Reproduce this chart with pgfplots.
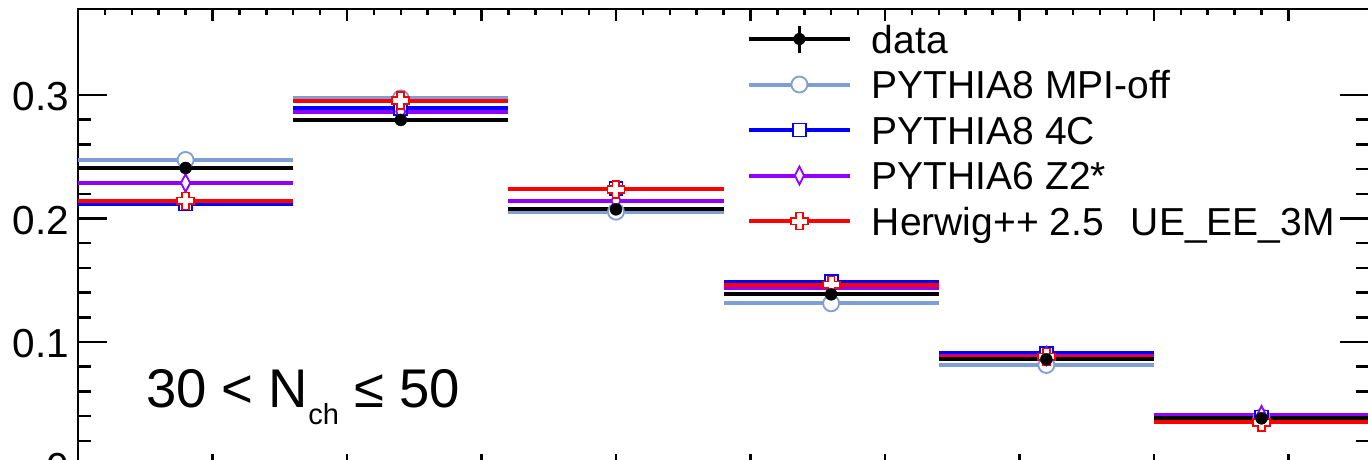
\documentclass[border=0pt]{standalone}
\usepackage{pgfplots}
\pgfplotsset{compat=1.18}
\usepackage{pgfplotstable}
\usepackage{fontspec}
\setmainfont{Liberation Sans}

\definecolor{mpioff}{RGB}{128,158,214}
\definecolor{pyblue}{RGB}{0,0,255}
\definecolor{zviolet}{RGB}{146,0,255}
\definecolor{hwred}{RGB}{255,0,0}

% ROOT style open cross (marker 28)
\pgfdeclareplotmark{ocross}{%
  \pgfpathmoveto{\pgfqpoint{0.4\pgfplotmarksize}{\pgfplotmarksize}}%
  \pgfpathlineto{\pgfqpoint{0.4\pgfplotmarksize}{0.4\pgfplotmarksize}}%
  \pgfpathlineto{\pgfqpoint{\pgfplotmarksize}{0.4\pgfplotmarksize}}%
  \pgfpathlineto{\pgfqpoint{\pgfplotmarksize}{-0.4\pgfplotmarksize}}%
  \pgfpathlineto{\pgfqpoint{0.4\pgfplotmarksize}{-0.4\pgfplotmarksize}}%
  \pgfpathlineto{\pgfqpoint{0.4\pgfplotmarksize}{-\pgfplotmarksize}}%
  \pgfpathlineto{\pgfqpoint{-0.4\pgfplotmarksize}{-\pgfplotmarksize}}%
  \pgfpathlineto{\pgfqpoint{-0.4\pgfplotmarksize}{-0.4\pgfplotmarksize}}%
  \pgfpathlineto{\pgfqpoint{-\pgfplotmarksize}{-0.4\pgfplotmarksize}}%
  \pgfpathlineto{\pgfqpoint{-\pgfplotmarksize}{0.4\pgfplotmarksize}}%
  \pgfpathlineto{\pgfqpoint{-0.4\pgfplotmarksize}{0.4\pgfplotmarksize}}%
  \pgfpathlineto{\pgfqpoint{-0.4\pgfplotmarksize}{\pgfplotmarksize}}%
  \pgfpathclose
  \pgfusepathqfillstroke
}

% bin centre, half width, then one column per curve
\pgfplotstableread{
x   ex  data   mpioff p4c    z2     herwig
0.8 0.8 0.2409 0.2474 0.2117 0.2287 0.2142
2.4 0.8 0.2798 0.2973 0.2892 0.2865 0.2954
4.0 0.8 0.2074 0.2055 0.2240 0.2144 0.2236
5.6 0.8 0.1386 0.1313 0.1488 0.1435 0.1462
7.2 0.8 0.0860 0.0814 0.0908 0.0887 0.0879
8.8 0.8 0.0382 0.0390 0.0392 0.0409 0.0350
}\bins

\pgfplotsset{
  frame/.style={
    scale only axis, width=1291.2pt, height=456.5pt,
    at={(78pt,-9pt)}, anchor=north west,
    xmin=0, xmax=9.6, ymin=0, ymax=0.3696,
    axis line style={line width=2.5pt},
    tick style={line width=2.5pt, black},
    xtick pos=both, ytick pos=both,
  },
  binline/.style={only marks, mark=none, forget plot,
    error bars/.cd, x dir=both, x explicit, error mark=none,
    error bar style={line width=4pt, color=#1}},
  mk/.style={only marks, forget plot},
}

\begin{document}
\begin{tikzpicture}
% x ticks (short)
\begin{axis}[frame,
  xtick={0,1,...,9}, minor x tick num=4, xticklabels={},
  ytick=\empty,
  major tick length=12pt, minor tick length=6pt,
]
\end{axis}
% y ticks and data
\begin{axis}[frame,
  xtick=\empty,
  ytick={0,0.1,0.2,0.3}, yticklabels={0,0.1,0.2,0.3}, minor y tick num=4,
  ticklabel pos=left,
  major tick length=29pt, minor tick length=13pt,
  yticklabel style={font=\fontsize{40.5}{42}\selectfont, inner sep=0pt, xshift=-9pt, yshift=-2pt},
  legend cell align=left,
  legend style={at={(axis description cs:0.5181,0.9841)}, anchor=north west,
    draw=none, fill=none, inner sep=0pt, outer sep=0pt, row sep=0pt, column sep=20pt,
    font=\fontsize{39}{42}\selectfont,
    nodes={inner sep=0pt, text height=37.05pt, text depth=8.45pt}},
]
% horizontal bin lines
\addplot[binline=mpioff]  table[x=x, y=mpioff, x error=ex] {\bins};
\addplot[binline=pyblue]  table[x=x, y=p4c,    x error=ex] {\bins};
\addplot[binline=zviolet] table[x=x, y=z2,     x error=ex] {\bins};
\addplot[binline=hwred]   table[x=x, y=herwig, x error=ex] {\bins};
\addplot[binline=black]   table[x=x, y=data,   x error=ex] {\bins};

% markers
\addplot[mk, mark=*, mark size=8pt, mpioff,
  mark options={fill=white, line width=1.8pt}]
  table[x=x, y=mpioff] {\bins};
\addplot[mk, mark=square*, mark size=6.5pt, pyblue,
  mark options={fill=white, line width=1.8pt}]
  table[x=x, y=p4c] {\bins};
\addplot[mk, mark=diamond*, mark size=9pt, zviolet,
  mark options={fill=white, line width=1.8pt, xscale=0.67}]
  table[x=x, y=z2] {\bins};
\addplot[mk, mark=ocross, mark size=8.5pt, hwred,
  mark options={fill=white, line width=1.8pt}]
  table[x=x, y=herwig] {\bins};
\addplot[mk, mark=*, mark size=6pt, black,
  error bars/.cd, y dir=both, y fixed=0.005, error mark=none,
  error bar style={line width=2.5pt, black}]
  table[x=x, y=data] {\bins};

\addlegendimage{legend image code/.code={
  \draw[black, line width=4pt] (0pt,0pt) -- (101pt,0pt);
  \draw[black, line width=2.5pt] (50.5pt,-13.5pt) -- (50.5pt,13.5pt);
  \fill[black] (50.5pt,0pt) circle (5.8pt);}}
\addlegendentry{data}
\addlegendimage{legend image code/.code={
  \draw[mpioff, line width=4pt] (0pt,0pt) -- (101pt,0pt);
  \draw[mpioff, line width=1.8pt] plot[mark=*, mark size=8pt, mark options={fill=white}] coordinates {(50.5pt,0pt)};}}
\addlegendentry{PYTHIA8 MPI-off}
\addlegendimage{legend image code/.code={
  \draw[pyblue, line width=4pt] (0pt,0pt) -- (101pt,0pt);
  \draw[pyblue, line width=1.8pt] plot[mark=square*, mark size=6.5pt, mark options={fill=white}] coordinates {(50.5pt,0pt)};}}
\addlegendentry{PYTHIA8 4C}
\addlegendimage{legend image code/.code={
  \draw[zviolet, line width=4pt] (0pt,0pt) -- (101pt,0pt);
  \draw[zviolet, line width=1.8pt] plot[mark=diamond*, mark size=9pt, mark options={fill=white, xscale=0.67}] coordinates {(50.5pt,0pt)};}}
\addlegendentry{PYTHIA6 Z2*}
\addlegendimage{legend image code/.code={
  \draw[hwred, line width=4pt] (0pt,0pt) -- (101pt,0pt);
  \draw[hwred, line width=1.8pt] plot[mark=ocross, mark size=8.5pt, mark options={fill=white}] coordinates {(50.5pt,0pt)};}}
\addlegendentry{Herwig++ 2.5\hspace{27pt}UE\_EE\_3M}
\end{axis}

\node[anchor=base west, inner sep=0pt, font=\fontsize{54.5}{56}\selectfont]
  at (146pt,-407pt) {30 < N\raisebox{-17pt}{\fontsize{29}{29}\selectfont ch} ≤ 50};

\pgfresetboundingbox
\useasboundingbox (0pt,0pt) rectangle (1368pt,-459pt);
\end{tikzpicture}
\end{document}
